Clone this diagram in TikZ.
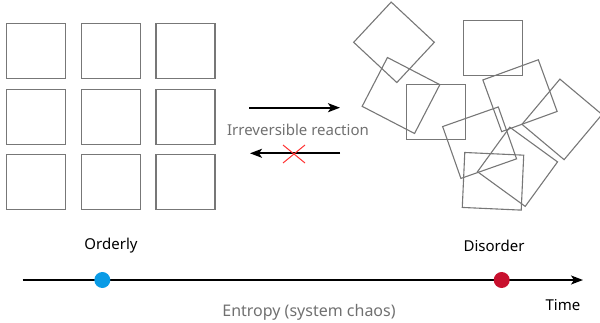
\documentclass[tikz,border=0pt]{standalone}
\usepackage{fontspec}
\setmainfont{Noto Sans}
\usetikzlibrary{arrows.meta}
\definecolor{boxgray}{HTML}{777777}
\definecolor{textgray}{HTML}{707070}
\definecolor{dotblue}{HTML}{0A9BE6}
\definecolor{dotred}{HTML}{C8102E}
\tikzset{
  sq/.style={draw=boxgray, line width=1.1pt, inner sep=0pt,
             minimum width=59pt, minimum height=55pt},
  label/.style={font=\fontsize{15}{18}\selectfont, inner sep=0pt},
  graylabel/.style={label, text=textgray},
  flow/.style={line width=1.8pt, -{Stealth[length=12pt,width=9pt,inset=3pt]}},
  dot/.style={circle, inner sep=0pt, minimum size=16pt},
  cross/.style={draw=red!80!white, line width=1pt}
}
\begin{document}
\begin{tikzpicture}[x=1pt,y=1pt]
\useasboundingbox (0,0) rectangle (600,322);

% ordered grid of squares
\foreach \r/\yy in {1/271.1, 2/205.3, 3/140}{
  \foreach \c/\xx in {1/35.8, 2/110.7, 3/185.5}{
    \node[sq] (g\r\c) at (\xx,\yy) {};
  }
}

% scattered squares
\node[sq, rotate=-43]   (s1) at (394,279.7) {};
\node[sq]               (s2) at (492.7,273.7) {};
\node[sq, rotate=-27.4] (s3) at (401,226.5) {};
\node[sq]               (s4) at (436,210.2) {};
\node[sq, rotate=20]    (s5) at (520,226.3) {};
\node[sq, rotate=50]    (s6) at (562,202.6) {};
\node[sq, rotate=19.4]  (s7) at (479.6,179.3) {};
\node[sq, rotate=-36]   (s8) at (517.5,155.2) {};
\node[sq, rotate=-2.6]  (s9) at (493,140.7) {};

% reaction arrows
\coordinate (fwA) at (249,214.3);
\coordinate (fwB) at (340,214.3);
\coordinate (bwA) at (340,168.7);
\coordinate (bwB) at (250,168.7);
\draw[flow] (fwA) -- (fwB);
\draw[flow] (bwA) -- (bwB);
\node[graylabel] (react) at (298,192) {Irreversible reaction};
\coordinate (xc) at (294,168);
\draw[cross] ([shift={(-11,-9)}]xc) -- ([shift={(11,9)}]xc);
\draw[cross] ([shift={(-11,9)}]xc) -- ([shift={(11,-9)}]xc);

% time axis
\coordinate (t0) at (22.7,42);
\coordinate (t1) at (583,42);
\draw[flow] (t0) -- (t1);
\node[dot, fill=dotblue] (ord) at (102.3,42) {};
\node[dot, fill=dotred]  (dis) at (501.7,42) {};
\node[label] (ordl) at (111,76) {Orderly};
\node[label] (disl) at (494,76) {Disorder};
\node[label] (time) at (563,17) {Time};
\node[graylabel, font=\fontsize{16}{19}\selectfont] (entropy) at (309,9.3) {Entropy (system chaos)};
\end{tikzpicture}
\end{document}
